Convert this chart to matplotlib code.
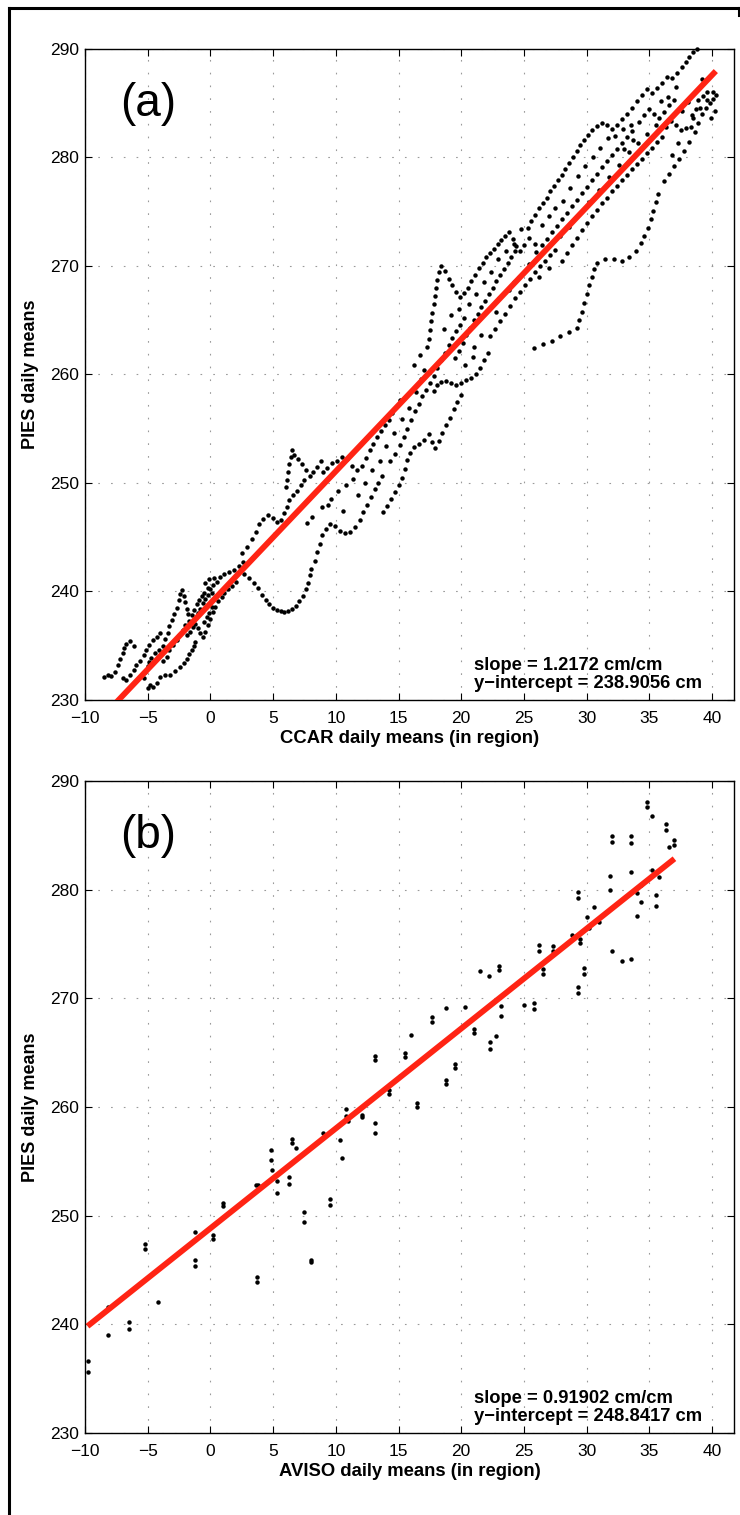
import matplotlib
matplotlib.use("Agg")
import matplotlib.pyplot as plt
from matplotlib.lines import Line2D
import numpy as np

plt.rcParams['font.family'] = ['Liberation Sans', 'DejaVu Sans']

# --- panel (a): CCAR vs PIES daily means, (x, y) pairs grouped by region ---
ccar_low_left = [
    (-8.5, 232.1), (-8.2, 232.3), (-7.9, 232.2), (-7.6, 232.6), (-7.4, 233.2), (-7.2, 233.8),
    (-7.0, 234.3), (-6.9, 234.8), (-6.7, 235.2), (-6.4, 235.4), (-6.1, 235.0),
    (-7.0, 232.0), (-6.7, 231.8), (-6.4, 232.3), (-6.1, 232.8), (-5.9, 233.2), (-5.6, 233.6),
    (-5.3, 234.1), (-5.1, 234.6), (-4.9, 235.1), (-4.6, 235.5), (-4.3, 235.8), (-4.0, 236.2),
    (-5.0, 231.1), (-4.8, 231.4), (-4.6, 231.2), (-4.3, 231.6), (-4.0, 232.1), (-3.6, 232.3),
    (-3.2, 232.3), (-2.8, 232.7), (-2.4, 233.0), (-2.1, 233.4), (-1.9, 233.8), (-1.7, 234.2),
    (-1.5, 234.6), (-1.3, 235.0), (-1.2, 235.3),
    (-5.3, 232.0), (-5.2, 232.6), (-5.0, 233.1), (-4.9, 233.5), (-4.7, 233.9), (-4.4, 234.3),
    (-4.1, 234.6), (-3.8, 235.0), (-3.6, 235.6), (-3.4, 236.2), (-3.3, 236.8), (-3.1, 237.4),
    (-2.9, 237.9), (-2.7, 238.5), (-2.5, 239.2), (-2.4, 239.8), (-2.3, 240.1), (-2.1, 239.6),
    (-2.0, 239.0), (-1.9, 238.4), (-1.8, 237.9),
    (-3.8, 233.6), (-3.5, 234.0), (-3.3, 234.6), (-3.0, 235.1), (-2.7, 235.5), (-2.5, 236.0),
    (-2.2, 236.4), (-2.0, 236.9), (-1.7, 237.3), (-1.5, 237.8), (-1.3, 238.3), (-1.1, 238.8),
    (-0.9, 239.2), (-0.7, 239.6), (-0.5, 239.9),
    (-1.9, 236.0), (-1.6, 236.3), (-1.4, 236.7), (-1.2, 237.0), (-1.0, 236.6), (-0.8, 236.2),
    (-0.6, 235.8), (-0.4, 236.3), (-0.2, 236.9), (0.0, 237.5), (0.2, 238.1), (0.4, 238.6),
    (0.6, 239.1), (0.9, 239.5), (1.1, 239.9), (1.4, 240.2), (1.7, 240.5), (2.0, 240.9),
    (-1.0, 238.0), (-0.8, 238.4), (-0.6, 238.9), (-0.4, 239.3), (-0.2, 239.7), (0.0, 240.2),
    (0.2, 240.6), (0.5, 240.9), (0.8, 241.3), (1.1, 241.6), (1.5, 241.8), (1.9, 242.0),
    (2.3, 242.3), (2.6, 242.7),
    (-0.5, 237.2), (-0.3, 237.6), (-0.1, 238.0), (0.1, 238.6), (0.3, 239.3), (0.1, 239.9),
    (-0.2, 240.3), (-0.4, 240.8), (-0.1, 241.1), (0.3, 241.2),
]
ccar_loop = [
    (2.7, 241.6), (3.1, 241.2), (3.5, 240.8), (3.8, 240.3), (4.1, 239.7), (4.4, 239.2),
    (4.7, 238.8), (5.0, 238.5), (5.3, 238.3), (5.6, 238.2), (5.9, 238.1), (6.2, 238.2),
    (6.5, 238.4), (6.8, 238.7), (7.1, 239.1), (7.4, 239.6), (7.6, 240.2), (7.8, 240.8),
    (7.9, 241.5), (8.0, 242.1),
]
ccar_mid_low = [
    (2.5, 243.5), (2.9, 244.1), (3.3, 244.8), (3.6, 245.5), (3.9, 246.2), (4.2, 246.7),
    (4.6, 247.0), (5.0, 246.8), (5.3, 246.4), (5.6, 246.6), (5.9, 247.2), (6.1, 247.8),
    (6.3, 248.4), (6.6, 248.9), (6.9, 249.3), (7.2, 249.8), (7.5, 250.3), (7.9, 250.6),
    (8.2, 251.0), (8.5, 251.5), (8.8, 252.0),
    (6.0, 249.6), (6.1, 250.3), (6.2, 251.0), (6.3, 251.7), (6.4, 252.4), (6.5, 253.0),
    (6.7, 252.6), (7.0, 252.2), (7.3, 251.7), (7.6, 251.2),
    (8.3, 242.8), (8.5, 243.6), (8.7, 244.4), (8.9, 245.2), (9.2, 245.8), (9.5, 246.2),
    (9.9, 246.0), (10.3, 245.6), (10.7, 245.4), (11.1, 245.5), (11.5, 245.9), (11.9, 246.6),
    (12.2, 247.3), (12.5, 248.0), (12.8, 248.7), (13.1, 249.4), (13.4, 250.0), (13.7, 250.6),
    (9.0, 251.0), (9.3, 251.4), (9.7, 251.8), (10.1, 252.0), (10.5, 252.4), (10.9, 252.2),
    (11.3, 251.6), (11.7, 251.2), (12.1, 251.6), (12.4, 252.3), (12.7, 253.0), (13.0, 253.6),
    (13.3, 254.2), (13.6, 254.8), (13.9, 255.3), (14.2, 255.8), (14.5, 256.4), (14.8, 257.0),
    (15.1, 257.6),
    (13.8, 247.3), (14.1, 247.9), (14.4, 248.5), (14.7, 249.2), (15.0, 249.8), (15.3, 250.5),
    (15.5, 251.3), (15.7, 252.1), (15.9, 252.8), (16.2, 253.3), (16.6, 253.6), (17.0, 254.0),
    (17.4, 254.5), (17.7, 253.8), (17.9, 253.2), (18.2, 253.9), (18.5, 254.6), (18.8, 255.3),
    (19.1, 256.0), (19.4, 256.8), (19.7, 257.5), (20.0, 258.1),
]
ccar_mid_high = [
    (17.8, 258.5), (18.1, 259.0), (18.4, 259.3), (18.8, 259.4), (19.2, 259.2), (19.6, 259.0),
    (20.0, 259.2), (20.4, 259.5), (20.8, 259.7), (21.2, 260.0), (21.5, 260.6), (21.8, 261.3),
    (22.1, 262.0),
    (14.3, 252.0), (14.7, 252.7), (15.1, 253.5), (15.4, 254.2), (15.7, 255.0), (16.0, 255.8),
    (16.3, 256.6), (16.6, 257.3), (16.9, 258.0), (17.2, 258.6), (17.5, 259.2), (17.8, 259.9),
    (18.1, 260.6), (18.4, 261.3), (18.7, 262.0), (19.0, 262.7), (19.3, 263.4), (19.6, 264.0),
    (19.9, 264.6), (20.2, 265.2),
    (17.3, 262.5), (17.4, 263.3), (17.5, 264.1), (17.6, 264.9), (17.7, 265.7), (17.8, 266.5),
    (17.9, 267.2), (18.0, 268.0), (18.1, 268.7), (18.2, 269.4), (18.4, 270.0), (18.7, 269.5),
    (19.0, 268.8), (19.3, 268.2), (19.6, 267.6), (19.9, 267.1),
    (20.2, 267.5), (20.5, 268.0), (20.8, 268.6), (21.1, 269.2), (21.4, 269.8), (21.7, 270.3),
    (22.0, 270.8), (22.3, 271.2), (22.6, 271.6), (22.9, 272.0), (23.2, 272.4), (23.5, 272.8),
    (23.8, 273.1), (24.1, 272.5), (24.4, 271.8), (24.7, 271.4), (25.0, 271.9),
    (19.5, 261.5), (19.8, 262.2), (20.1, 262.9), (20.4, 263.6), (20.7, 264.3), (21.0, 265.0),
    (21.3, 265.6), (21.6, 266.2), (21.9, 266.8), (22.2, 267.4), (22.5, 268.0), (22.8, 268.6),
    (23.1, 269.2), (23.4, 269.7), (23.7, 270.3), (24.0, 270.8), (24.3, 271.4),
    (22.3, 263.5), (22.7, 264.2), (23.1, 264.9), (23.5, 265.6), (23.9, 266.3), (24.3, 267.0),
    (24.7, 267.6), (25.1, 268.2), (25.5, 268.8), (25.9, 269.4), (26.3, 270.0), (26.7, 270.5),
    (27.1, 271.0), (27.5, 271.5),
]
ccar_right = [
    (25.8, 262.4), (26.5, 262.8), (27.2, 263.1), (27.9, 263.5), (28.6, 263.9), (29.2, 264.3),
    (29.4, 265.0), (29.6, 265.8), (29.8, 266.6), (30.0, 267.4), (30.2, 268.2), (30.4, 269.0),
    (30.6, 269.7), (30.8, 270.3),
    (31.5, 270.6), (32.2, 270.6), (32.8, 270.5), (33.4, 270.8), (33.9, 271.4), (34.3, 272.1),
    (34.6, 272.8), (34.9, 273.5), (35.1, 274.3), (35.3, 275.1), (35.5, 275.9), (35.7, 276.6),
    (25.3, 273.5), (25.6, 274.1), (25.9, 274.7), (26.2, 275.3), (26.5, 275.8), (26.8, 276.3),
    (27.1, 276.9), (27.4, 277.4), (27.7, 277.9), (28.0, 278.4), (28.3, 278.9), (28.6, 279.5),
    (28.9, 280.0), (29.2, 280.6), (29.5, 281.1), (29.8, 281.6), (30.1, 282.1), (30.4, 282.5),
    (30.8, 282.9), (31.2, 283.2), (31.6, 283.0), (32.0, 282.6), (32.4, 283.0), (32.8, 283.5),
    (33.2, 284.0),
    (26.0, 271.3), (26.4, 271.9), (26.8, 272.5), (27.2, 273.1), (27.6, 273.7), (28.0, 274.3),
    (28.4, 274.9), (28.8, 275.5), (29.2, 276.1), (29.6, 276.7), (30.0, 277.3), (30.4, 277.9),
    (30.8, 278.5), (31.2, 279.1), (31.6, 279.7), (32.0, 280.2), (32.4, 280.8), (32.8, 281.3),
    (33.2, 281.9), (33.6, 282.4),
    (28.0, 270.5), (28.4, 271.2), (28.8, 271.9), (29.2, 272.6), (29.6, 273.3), (30.0, 274.0),
    (30.4, 274.6), (30.8, 275.2), (31.2, 275.8), (31.6, 276.3), (32.0, 276.9), (32.4, 277.4),
    (32.8, 277.9), (33.2, 278.4), (33.6, 278.9), (34.0, 279.4), (34.4, 279.9), (34.8, 280.4),
    (35.2, 280.9), (35.6, 281.4), (36.0, 281.9),
    (36.2, 277.8), (36.6, 278.5), (37.0, 279.2), (37.4, 279.9), (37.8, 280.6), (38.2, 281.4),
    (38.6, 282.3), (38.9, 283.2), (39.2, 284.0), (39.5, 284.6), (39.8, 285.0), (40.1, 285.4),
    (40.3, 285.8), (39.9, 283.6), (40.2, 284.3),
    (38.3, 282.8), (38.5, 283.6), (38.7, 284.5), (38.9, 285.3), (39.3, 285.7), (39.6, 286.0),
    (33.6, 284.6), (34.0, 285.2), (34.4, 285.8), (34.8, 286.3), (35.2, 285.9), (35.6, 286.4),
    (36.0, 286.9), (36.4, 287.4), (36.8, 287.3), (37.2, 287.8), (37.6, 288.3), (37.9, 288.8),
    (38.2, 289.3), (38.5, 289.7), (38.8, 290.0),
    (34.2, 283.3), (34.6, 283.9), (35.0, 284.5), (35.4, 284.0), (35.8, 283.6), (36.2, 284.2),
    (36.6, 284.8), (37.0, 285.3),
    (36.3, 282.8), (36.7, 283.4), (37.1, 283.0), (37.5, 282.5),
]
# loose points filling the band between the main tracks
ccar_scatter = [
    (9.6, 248.5), (10.2, 249.3), (10.8, 249.8), (11.4, 250.4), (8.9, 247.8), (9.4, 248.0),
    (7.7, 246.3), (8.1, 246.9), (10.6, 247.4), (11.8, 248.9), (12.3, 250.0), (12.9, 251.2),
    (13.5, 252.0), (14.0, 253.4), (14.6, 254.6), (15.3, 255.9), (15.8, 256.9), (16.4, 258.4),
    (16.8, 259.6), (16.2, 260.9), (16.7, 261.8), (17.0, 260.4), (18.6, 264.2), (19.2, 265.5),
    (19.8, 266.0), (20.6, 266.5), (21.2, 267.4), (21.8, 268.5), (22.4, 269.4), (22.9, 270.6),
    (23.6, 271.4), (24.2, 272.0), (24.8, 273.4), (25.4, 272.6), (25.9, 272.0), (26.4, 273.8),
    (27.0, 274.6), (27.5, 275.3), (28.1, 276.0), (28.7, 277.2), (29.3, 278.3), (29.9, 279.2),
    (30.5, 280.0), (31.1, 280.9), (31.7, 281.8), (32.3, 282.0), (32.9, 282.6), (33.5, 283.0),
    (27.9, 272.8), (28.6, 273.6), (29.4, 274.8), (30.2, 275.9), (31.0, 277.0), (31.8, 278.2),
    (32.6, 279.3), (33.4, 280.5), (34.1, 281.3), (34.8, 282.2), (35.5, 283.0), (23.0, 267.0),
    (23.8, 267.8), (24.6, 269.0), (25.4, 270.2), (26.2, 269.0), (27.0, 269.8), (21.0, 262.5),
    (21.6, 263.6), (22.8, 265.8), (24.2, 268.5), (20.3, 260.9), (20.9, 261.6), (36.8, 280.2),
    (37.3, 281.3), (37.9, 282.7), (38.4, 283.9), (39.0, 284.6), (39.6, 285.3), (40.1, 286.0),
    (37.6, 284.3), (38.1, 285.1), (39.2, 287.2), (36.5, 285.6), (37.1, 286.5), (35.9, 285.2),
    (33.0, 280.8), (33.7, 281.6),
]
slope_a, icpt_a = 1.2172, 238.9056
xlabel_a = "CCAR daily means (in region)"

# --- panel (b): AVISO vs PIES daily means ---
aviso_x = [
    -9.8, -9.8, -8.2, -8.2, -6.5, -6.5, -5.2, -5.2, -4.2,
    -1.2, -1.2, -1.2, 0.2, 0.2, 1.0, 1.0, 3.6, 3.8, 3.7, 3.7,
    4.8, 4.8, 4.9, 5.3, 5.3, 6.3, 6.3, 6.5, 6.5, 6.8, 7.5, 7.5, 8.0, 8.0,
    9.0, 9.5, 9.5, 10.3, 10.5, 10.8, 10.8, 11.0, 12.1, 12.1,
    13.1, 13.1, 13.1, 13.1, 14.2, 14.2, 15.5, 15.5, 16.0, 16.5, 16.5,
    17.7, 17.7, 18.8, 18.8, 18.8, 19.5, 19.5, 20.3, 21.0, 21.0, 21.5,
    22.2, 22.3, 22.3, 22.8, 23.0, 23.0, 23.2, 23.2, 25.0, 25.8, 25.8,
    26.2, 26.2, 26.5, 26.5, 27.3, 27.3, 28.8, 29.3, 29.3, 29.5, 29.5,
    29.3, 29.3, 29.8, 29.8, 30.0, 30.2, 30.6, 31.0, 31.9, 31.9, 32.0, 32.0,
    32.0, 32.8, 33.5, 33.5, 33.5, 33.5, 34.0, 34.0, 34.3, 34.3, 34.8, 34.8,
    35.2, 35.2, 35.5, 35.5, 35.8, 36.3, 36.3, 36.6, 37.0, 37.0,
]
aviso_y = [
    236.6, 235.6, 241.6, 239.0, 240.2, 239.6, 247.4, 246.9, 242.1,
    248.5, 245.9, 245.4, 248.2, 247.9, 251.2, 250.9, 252.8, 252.8, 244.4, 243.9,
    256.0, 255.1, 254.2, 253.2, 252.1, 253.6, 252.9, 257.1, 256.7, 256.2, 250.3, 249.4, 245.9, 245.7,
    257.6, 251.5, 251.0, 257.0, 255.3, 259.8, 259.2, 258.7, 259.3, 259.1,
    264.7, 264.3, 258.5, 257.6, 261.6, 261.2, 265.0, 264.6, 266.6, 260.4, 260.0,
    268.3, 267.8, 269.1, 262.5, 262.1, 264.0, 263.6, 269.2, 267.2, 266.8, 272.5,
    272.1, 266.0, 265.3, 266.5, 273.0, 272.6, 269.3, 268.4, 269.4, 269.6, 269.0,
    274.9, 274.4, 272.2, 272.7, 274.8, 274.4, 275.8, 279.8, 279.2, 275.5, 275.1,
    271.0, 270.5, 272.8, 272.2, 277.5, 276.5, 278.4, 277.0, 281.3, 280.0, 284.9, 284.4,
    274.4, 273.4, 273.6, 281.6, 284.9, 284.3, 279.7, 277.6, 280.4, 278.9, 288.1, 287.6,
    286.8, 281.8, 279.5, 278.5, 281.2, 286.0, 285.5, 283.9, 284.6, 284.1,
]
slope_b, icpt_b = 0.91902, 248.8417
xlabel_b = "AVISO daily means (in region)"

ylabel = "PIES daily means"
xticks = [-10, -5, 0, 5, 10, 15, 20, 25, 30, 35, 40]
yticks = [230, 240, 250, 260, 270, 280, 290]

ccar_pts = np.array(ccar_low_left + ccar_loop + ccar_mid_low + ccar_mid_high
                    + ccar_right + ccar_scatter)
ccar_x, ccar_y = ccar_pts[:, 0], ccar_pts[:, 1]

fig = plt.figure(figsize=(7.4, 15.15), dpi=100)
ax_a = fig.add_axes([0.1149, 0.5380, 0.8770, 0.4297])
ax_b = fig.add_axes([0.1149, 0.0541, 0.8770, 0.4304])

panels = [
    (ax_a, ccar_x, ccar_y, slope_a, icpt_a, xlabel_a, "(a)"),
    (ax_b, aviso_x, aviso_y, slope_b, icpt_b, xlabel_b, "(b)"),
]

for ax, xs, ys, m, b, xlab, tag in panels:
    xs = np.asarray(xs)
    ys = np.asarray(ys)
    ax.plot(xs, ys, 'o', color='black', ms=3.2, mew=0, zorder=3, clip_on=False)
    xf = np.array([xs.min(), xs.max()])
    ax.plot(xf, m * xf + b, color='#ff2414', lw=4.2, solid_capstyle='butt', zorder=4)

    ax.set_xlim(-10, 41.75)
    ax.set_ylim(230, 290)
    ax.set_xticks(xticks)
    ax.set_yticks(yticks)
    ax.set_xticklabels([str(t).replace('-', '\u2212') for t in xticks])
    ax.tick_params(direction='in', top=True, right=True, length=5, width=0.8,
                   labelsize=12.5, colors='black')
    ax.tick_params(axis='x', pad=8)
    ax.tick_params(axis='y', pad=4)
    ax.grid(True, color='#9a9a9a', lw=0.8, linestyle=(0, (1.5, 10)))
    for sp in ax.spines.values():
        sp.set_linewidth(1.0)

    ax.set_xlabel(xlab, fontsize=13.3, fontweight='bold', labelpad=3)
    ax.set_ylabel(ylabel, fontsize=13, fontweight='bold', labelpad=8)
    ax.text(0.054, 0.915, tag, transform=ax.transAxes, fontsize=33,
            ha='left', va='center')
    ax.text(0.60, 0.012,
            f"slope = {m:g} cm/cm\ny\u2212intercept = {b:.4f} cm",
            transform=ax.transAxes, fontsize=13.2, fontweight='bold',
            ha='left', va='bottom', linespacing=1.12)

# outer frame (left, top, right)
lw_f = 2.2
fig.add_artist(Line2D([8.5 / 740, 8.5 / 740], [0, 1 - 8 / 1515], color='black', lw=lw_f))
fig.add_artist(Line2D([8.5 / 740, 738.5 / 740], [1 - 8 / 1515, 1 - 8 / 1515], color='black', lw=lw_f))
fig.add_artist(Line2D([738.5 / 740, 738.5 / 740], [0.99, 1 - 8 / 1515], color='black', lw=lw_f))

fig.savefig("out.png", dpi=100)
